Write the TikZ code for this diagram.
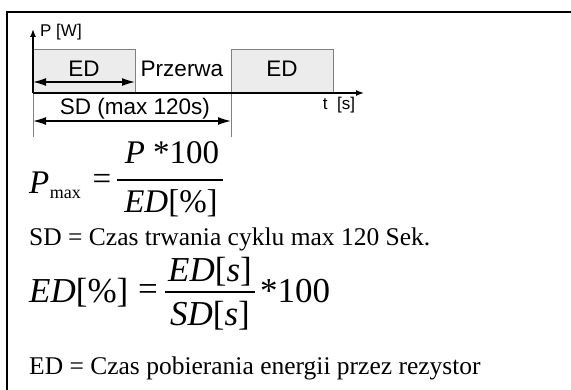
\documentclass[tikz,border=0pt]{standalone}
\usepackage{fontspec}
\setmainfont{Liberation Serif}
\newfontfamily\arialfont{Liberation Sans}
\usetikzlibrary{arrows.meta}

\begin{document}
\begin{tikzpicture}[x=1pt, y=-1pt,
    lbl/.style={font=\arialfont\fontsize{22.5}{23}\selectfont, inner sep=0pt, anchor=base},
    axlbl/.style={font=\arialfont\fontsize{17}{17}\selectfont, inner sep=0pt, anchor=base},
    txt/.style={font=\fontsize{25.5}{26}\selectfont, inner sep=0pt, anchor=base west},
    frm/.style={font=\fontsize{33}{33}\selectfont, inner sep=0pt, anchor=base},
    bigfrm/.style={font=\fontsize{35}{35}\selectfont, inner sep=0pt, anchor=base},
    pulse/.style={draw=gray, fill=gray!15, line width=0.8pt},
    tick/.style={draw=gray, line width=0.8pt},
    dimarr/.style={{Latex[length=13pt,width=8pt]}-{Latex[length=13pt,width=8pt]}, line width=1.4pt},
    axis/.style={-{Latex[length=8pt,width=6pt]}, line width=1.4pt}]
    \useasboundingbox (0,0) rectangle (571,390);
    \draw[line width=2pt] (7,392) |- (573,12);

    \coordinate (o) at (33,93);
    \coordinate (ytop) at (33,29);
    \coordinate (tend) at (364,93);
    \foreach \xa/\xb [count = \ii] in {33/135, 231/333}{
      \draw[pulse] (\xa,93) rectangle (\xb,49);
      \node[lbl] (ed\ii) at ({(\xa+\xb)/2},77) {ED};
      \coordinate (s\ii) at (\xa,137);
    }
    \node[lbl] (pause) at (182,77) {Przerwa};
    \draw[tick] (o) -- (s1);
    \draw[tick] (231,93) -- (s2);
    \draw[axis] (o) -- (ytop);
    \draw[axis] (o) -- (tend);
    \node[axlbl, anchor=base west] (pw) at (40,37) {P [W]};
    \node[axlbl] (ts) at (339,110) {t\ \ [s]};

    \coordinate (a1) at (33,82);
    \coordinate (a2) at (135,82);
    \coordinate (b1) at (33,121);
    \coordinate (b2) at (231,121);
    \draw[dimarr] (a1) -- (a2);
    \draw[dimarr] (b1) -- (b2);
    \node[lbl] (sd) at (135,115) {SD (max 120s)};

    \node[frm, anchor=base west] (pm) at (29,194) {\itshape P};
    \node[font=\fontsize{18}{18}\selectfont, inner sep=0pt, anchor=base west] (pmsub) at (pm.base east) [yshift=-5pt] {max};
    \node[frm, anchor=center] (eq1) at (102,182) {=};
    \node[frm] (num1) at (172,164) {{\itshape P} *100};
    \node[frm] (den1) at (171,213) {{\itshape ED}[\%]};
    \draw[line width=1.3pt] (117,180) -- (223,180);

    \node[txt] (sdtxt) at (29,246) {SD = Czas trwania cyklu max 120 Sek.};

    \node[bigfrm, anchor=base west] (edp) at (29,303) {{\itshape ED}[\%]};
    \node[bigfrm, anchor=center] (eq2) at (148,293) {=};
    \node[bigfrm] (num2) at (210,282) {{\itshape ED}[{\itshape s}]};
    \node[bigfrm] (den2) at (210,326) {{\itshape SD}[{\itshape s}]};
    \draw[line width=1.3pt] (165,292) -- (255,292);
    \node[bigfrm, anchor=base west] (mul) at (260,303) {*100};

    \node[txt] (edtxt) at (29,375) {ED = Czas pobierania energii przez rezystor};
  \end{tikzpicture}
\end{document}
